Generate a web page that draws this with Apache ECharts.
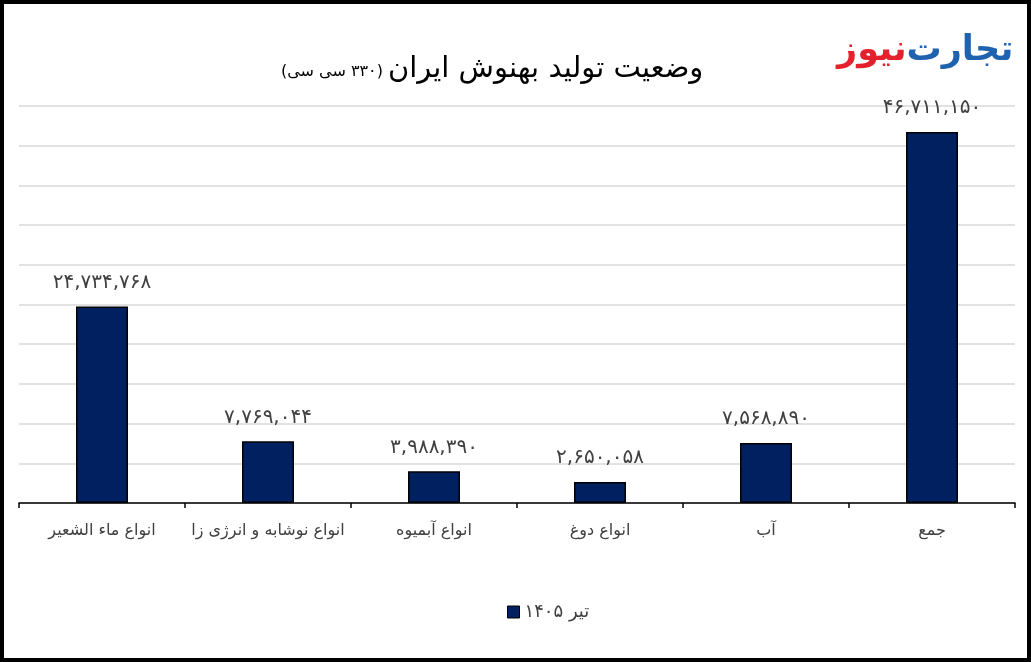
<!DOCTYPE html>
<html>
<head>
<meta charset="utf-8">
<script src="https://cdn.jsdelivr.net/npm/echarts@6/dist/echarts.min.js"></script>
<style>
html,body{margin:0;padding:0;background:#fff;}
#c{width:1031px;height:662px;}
</style>
</head>
<body>
<div id="c"></div>
<script>
const categories = ['انواع ماء الشعیر', 'انواع نوشابه و انرژی زا', 'انواع آبمیوه', 'انواع دوغ', 'آب', 'جمع'];
const values = [24734768, 7769044, 3988390, 2650058, 7568890, 46711150];
const seriesName = 'تیر ۱۴۰۵';
const titleMain = 'وضعیت تولید بهنوش ایران';
const titleSub = '\u202B(۳۳۰ سی سی)\u202C';

const FONT = 'DejaVu Sans';
function fa(n) {
  const s = n.toLocaleString('en-US');
  return s.replace(/[0-9]/g, d => '۰۱۲۳۴۵۶۷۸۹'[+d]);
}

const chart = echarts.init(document.getElementById('c'));
chart.setOption({
  animation: false,
  backgroundColor: '#fff',
  title: [{
    text: '{s|' + titleSub + '} {b|' + titleMain + '}',
    left: 276,
    top: 50,
    textStyle: {
      fontWeight: 'normal',
      rich: {
        s: { fontFamily: FONT, fontSize: 16, fontWeight: 'normal', color: '#000', verticalAlign: 'bottom', padding: [0, 0, 4, 0] },
        b: { fontFamily: FONT, fontSize: 29, fontWeight: 'normal', color: '#000', verticalAlign: 'bottom' }
      }
    }
  }, {
    text: '{r|نیوز}{b|تجارت}',
    left: 832,
    top: 28,
    textStyle: {
      rich: {
        r: { fontFamily: FONT, fontSize: 35, fontWeight: 'bold', color: '#e3202b' },
        b: { fontFamily: FONT, fontSize: 35, fontWeight: 'bold', color: '#1f63b0' }
      }
    }
  }],
  graphic: [{
    type: 'rect',
    shape: { x: 2, y: 2, width: 1027, height: 658 },
    style: { fill: 'none', stroke: '#000', lineWidth: 4 },
    silent: true,
    z: 100
  }],
  legend: {
    bottom: 36,
    left: 502,
    icon: 'rect',
    itemWidth: 12,
    itemHeight: 12,
    itemGap: 6,
    itemStyle: { borderColor: '#000', borderWidth: 1 },
    textStyle: { fontFamily: FONT, fontSize: 18, color: '#404040' },
    data: [seriesName]
  },
  grid: { left: 19, right: 16, top: 106, bottom: 159, containLabel: false },
  xAxis: {
    type: 'category',
    data: categories,
    axisLine: { lineStyle: { color: '#000', width: 1.5 } },
    axisTick: { show: true, length: 5, lineStyle: { color: '#000', width: 1.5 } },
    axisLabel: { fontFamily: FONT, fontSize: 16, color: '#404040', margin: 20, interval: 0 }
  },
  yAxis: {
    type: 'value',
    min: 0,
    max: 50000000,
    interval: 5000000,
    axisLabel: { show: false },
    axisLine: { show: false },
    axisTick: { show: false },
    splitLine: { lineStyle: { color: '#d9d9d9', width: 1.5 } }
  },
  series: [{
    name: seriesName,
    type: 'bar',
    data: values,
    barWidth: 52,
    itemStyle: { color: '#002060', borderColor: '#000', borderWidth: 1.5 },
    label: {
      show: true,
      position: 'top',
      distance: 14,
      fontFamily: FONT,
      fontSize: 20,
      color: '#404040',
      formatter: p => fa(p.value)
    }
  }]
});
</script>
</body>
</html>
